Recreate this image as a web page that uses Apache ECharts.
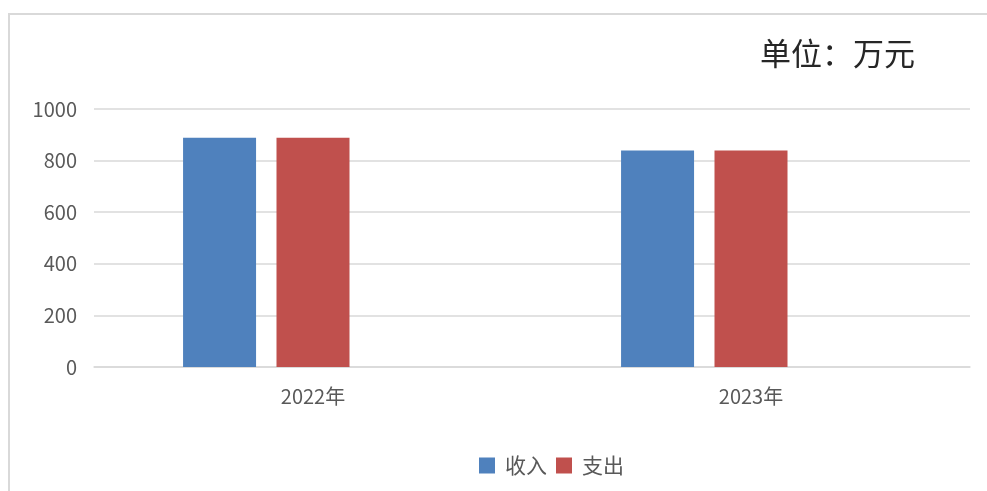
<!DOCTYPE html>
<html>
<head>
<meta charset="utf-8">
<script src="https://cdn.jsdelivr.net/npm/echarts@6/dist/echarts.min.js"></script>
<style>
  html, body { margin: 0; padding: 0; background: #fff; }
  #chart { width: 987px; height: 491px; }
</style>
</head>
<body>
<div id="chart"></div>
<script>
// 数据
const years = ['2022年', '2023年']
const income = [889, 839]
const expense = [889, 839]
const yTicks = [0, 200, 400, 600, 800, 1000]

const chart = echarts.init(document.getElementById('chart'))
const font = '"Noto Sans CJK SC", "Noto Sans", sans-serif'

chart.setOption({
  animation: false,
  textStyle: { fontFamily: font },
  graphic: [
    {
      type: 'rect',
      shape: { x: 9, y: 14, width: 1000, height: 500 },
      style: { fill: 'none', stroke: '#d9d9d9', lineWidth: 2 },
    },
    {
      type: 'text',
      left: 760,
      top: 38,
      style: {
        text: '单位：万元',
        font: '31px "Noto Sans CJK SC"',
        fill: '#262626',
      },
    },
  ],
  legend: {
    data: ['收入', '支出'],
    top: 450,
    left: 474,
    itemWidth: 16,
    itemHeight: 16,
    itemGap: 9,
    icon: 'rect',
    textStyle: { fontSize: 21, color: '#595959', fontFamily: font, padding: [0, 0, 0, 5] },
  },
  grid: { left: 94, right: 17, top: 109, bottom: 124, containLabel: false },
  xAxis: {
    type: 'category',
    data: years,
    axisLine: { lineStyle: { color: '#d9d9d9', width: 1.5 } },
    axisTick: { show: false },
    axisLabel: { fontSize: 20, color: '#595959', margin: 19 },
  },
  yAxis: {
    type: 'value',
    min: yTicks[0],
    max: yTicks[yTicks.length - 1],
    interval: 200,
    axisLine: { show: false },
    axisTick: { show: false },
    axisLabel: { fontSize: 20, color: '#595959', margin: 17, formatter: (v) => String(v) },
    splitLine: { lineStyle: { color: '#d9d9d9', width: 1.5 } },
  },
  series: [
    {
      name: '收入',
      type: 'bar',
      data: income,
      barWidth: 73,
      barGap: '28%',
      itemStyle: { color: '#4f81bd' },
    },
    {
      name: '支出',
      type: 'bar',
      data: expense,
      barWidth: 73,
      barGap: '28%',
      itemStyle: { color: '#c0504d' },
    },
    {
      // 空系列（原图中占位）
      name: '',
      type: 'bar',
      data: [null, null],
      barWidth: 73,
      barGap: '28%',
    },
  ],
})
</script>
</body>
</html>
